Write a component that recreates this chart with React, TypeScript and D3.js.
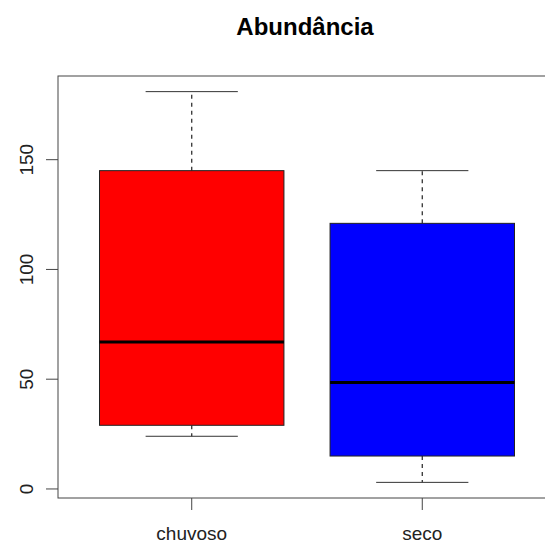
import React, { useEffect, useRef } from "react";
import * as d3 from "d3";

// box statistics
const groups = ["chuvoso", "seco"];
const mins = [24, 3];
const q1s = [29, 15];
const medians = [67, 48.5];
const q3s = [145, 121];
const maxs = [181, 145];
const fills = ["#ff0000", "#0000ff"];
const yTicks = [0, 50, 100, 150];

const App = () => {
  const svgRef = useRef<SVGSVGElement>(null);

  useEffect(() => {
    const width = 545, height = 544;
    const plot = { left: 58, right: 556, top: 76, bottom: 498 };

    const svg = d3.select(svgRef.current);
    svg.selectAll("*").remove();
    svg.attr("width", width).attr("height", height);

    const lo = d3.min(mins)!, hi = d3.max(maxs)!;
    const pad = (hi - lo) * 0.04;
    const y = d3.scaleLinear().domain([lo - pad, hi + pad]).range([plot.bottom, plot.top]);
    const x = d3.scaleLinear().domain([0.42, groups.length + 0.58]).range([plot.left, plot.right]);

    const font = "Liberation Sans, Arial, sans-serif";

    // title
    svg.append("text")
      .attr("x", (plot.left + plot.right) / 2 - 2)
      .attr("y", 35)
      .attr("text-anchor", "middle")
      .attr("font-family", font)
      .attr("font-weight", "bold")
      .attr("font-size", 24)
      .text("Abundância");

    const g = svg.append("g");

    groups.forEach((name, i) => {
      const cx = x(i + 1);
      const hw = (x(1.4) - x(1));
      const cw = hw / 2;

      // whiskers
      g.append("line")
        .attr("x1", cx).attr("x2", cx)
        .attr("y1", y(q3s[i])).attr("y2", y(maxs[i]))
        .attr("stroke", "#333").attr("stroke-width", 1.3).attr("stroke-dasharray", "4,4");
      g.append("line")
        .attr("x1", cx).attr("x2", cx)
        .attr("y1", y(q1s[i])).attr("y2", y(mins[i]))
        .attr("stroke", "#333").attr("stroke-width", 1.3).attr("stroke-dasharray", "4,4");
      // caps
      [maxs[i], mins[i]].forEach((v) => {
        g.append("line")
          .attr("x1", cx - cw).attr("x2", cx + cw)
          .attr("y1", y(v)).attr("y2", y(v))
          .attr("stroke", "#333");
      });
      // box
      g.append("rect")
        .attr("x", cx - hw)
        .attr("y", y(q3s[i]))
        .attr("width", hw * 2)
        .attr("height", y(q1s[i]) - y(q3s[i]))
        .attr("fill", fills[i])
        .attr("stroke", "#222");
      // median
      g.append("line")
        .attr("x1", cx - hw).attr("x2", cx + hw)
        .attr("y1", y(medians[i])).attr("y2", y(medians[i]))
        .attr("stroke", "#000").attr("stroke-width", 3);

      // x tick + label
      g.append("line")
        .attr("x1", cx).attr("x2", cx)
        .attr("y1", plot.bottom).attr("y2", plot.bottom + 12)
        .attr("stroke", "#444");
      g.append("text")
        .attr("x", cx).attr("y", 540)
        .attr("text-anchor", "middle")
        .attr("font-family", font)
        .attr("font-size", 19)
        .attr("fill", "#222")
        .text(name);
    });

    // y axis
    yTicks.forEach((t) => {
      g.append("line")
        .attr("x1", plot.left - 12).attr("x2", plot.left)
        .attr("y1", y(t)).attr("y2", y(t))
        .attr("stroke", "#444");
      g.append("text")
        .attr("transform", `translate(33, ${y(t)}) rotate(-90)`)
        .attr("text-anchor", "middle")
        .attr("font-family", font)
        .attr("font-size", 19)
        .attr("fill", "#222")
        .text(t);
    });

    // frame
    g.append("rect")
      .attr("x", plot.left).attr("y", plot.top)
      .attr("width", plot.right - plot.left)
      .attr("height", plot.bottom - plot.top)
      .attr("fill", "none")
      .attr("stroke", "#444");
  }, []);

  return (
    <svg ref={svgRef} style={{ position: "absolute", left: 0, top: 0, background: "#fff" }} />
  );
};

export default App;
